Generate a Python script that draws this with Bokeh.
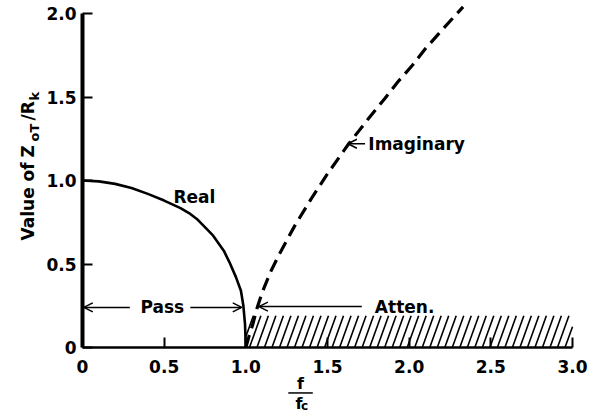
import numpy as np
from bokeh.plotting import figure
from bokeh.models import Range1d, FixedTicker, Label, Arrow, OpenHead
from bokeh.embed import file_html
from bokeh.resources import INLINE

# Normalised frequency f/fc and the characteristic impedance Z_oT/R_k
real_x = [0.0, 0.1, 0.2, 0.3, 0.4, 0.5, 0.6, 0.66, 0.7, 0.76, 0.8, 0.865, 0.9, 0.94,
          0.97, 0.985, 0.995, 1.0]
real_y = [1.0, 0.995, 0.98, 0.955, 0.92, 0.88, 0.835, 0.80, 0.77, 0.71, 0.67, 0.58, 0.51,
          0.42, 0.34, 0.25, 0.14, 0.0]

imag_x = [1.0, 1.02, 1.04, 1.07, 1.10, 1.15, 1.20, 1.30, 1.40, 1.50, 1.63, 1.75, 1.85,
          1.93, 2.02, 2.10, 2.20, 2.33]
imag_y = [0.0, 0.07, 0.13, 0.24, 0.33, 0.45, 0.55, 0.73, 0.89, 1.04, 1.22, 1.37, 1.49,
          1.59, 1.69, 1.79, 1.90, 2.04]

# attenuation band (shaded strip)
atten_start, atten_end, band_top = 1.0, 3.0, 0.19

x_ticks = [0.0, 0.5, 1.0, 1.5, 2.0, 2.5, 3.0]
x_tick_labels = ["0", "0.5", "1.0", "1.5", "2.0", "2.5", "3.0"]
y_ticks = [0.0, 0.5, 1.0, 1.5, 2.0]
y_tick_labels = ["0", "0.5", "1.0", "1.5", "2.0"]

FONT = "DejaVu Sans"

# frame fills the canvas; axes are pinned at the origin
p = figure(width=605, height=418,
           x_range=Range1d(-0.502, 3.202), y_range=Range1d(-0.425, 2.078),
           output_backend="svg", toolbar_location=None)
p.min_border_left = 0
p.min_border_right = 0
p.min_border_top = 0
p.min_border_bottom = 0
p.outline_line_color = None
p.grid.grid_line_color = None
p.background_fill_color = "white"
p.border_fill_color = "white"

for ax, ticks, labels in ((p.xaxis, x_ticks, x_tick_labels), (p.yaxis, y_ticks, y_tick_labels)):
    ax.fixed_location = 0
    ax.ticker = FixedTicker(ticks=ticks)
    ax.major_label_overrides = {t: l for t, l in zip(ticks, labels)}
    ax.minor_tick_line_color = None
    ax.major_tick_in = 10
    ax.major_tick_out = 0
    ax.major_tick_line_width = 2
    ax.major_tick_line_color = "black"
    ax.axis_line_color = "black"
    ax.major_label_text_font = FONT
    ax.major_label_text_font_style = "bold"
    ax.major_label_text_font_size = "17px"
    ax.major_label_text_color = "black"

p.xaxis.axis_line_width = 2.5
p.xaxis.major_label_standoff = 12
p.yaxis.axis_line_width = 4
p.yaxis.major_label_standoff = 6
p.yaxis.bounds = (0, 2.0)
p.xaxis.bounds = (0, 3.0)

# hatching of the attenuation band, clipped to the band's ends
dx, step = 0.07, 0.046
hx0, hy0, hx1, hy1 = [], [], [], []
for a in np.arange(atten_start - dx, atten_end, step):
    t0 = max(0.0, (atten_start - a) / dx)
    t1 = min(1.0, (atten_end - a) / dx)
    if t1 <= t0:
        continue
    hx0.append(a + dx * t0); hy0.append(band_top * t0)
    hx1.append(a + dx * t1); hy1.append(band_top * t1)
p.segment(hx0, hy0, hx1, hy1, line_color="black", line_width=1.6)

# real and imaginary parts
p.line(real_x, real_y, line_color="black", line_width=2.6)
p.line(imag_x, imag_y, line_color="black", line_width=3.2, line_dash="13 7")


def arrow(x0, x1, y):
    p.add_layout(Arrow(end=OpenHead(size=9, line_width=1.5, line_color="black"),
                       x_start=x0, y_start=y, x_end=x1, y_end=y,
                       line_width=1.5, line_color="black"))


def label(x, y, text, size="17px", align="left", baseline="middle", angle=0.0, bold=True):
    p.add_layout(Label(x=x, y=y, text=text, text_font=FONT, text_font_size=size,
                       text_font_style="bold" if bold else "normal",
                       text_align=align, text_baseline=baseline, angle=angle,
                       text_color="black"))


# pass / attenuation band markers
arrow(0.29, 0.008, 0.24)
arrow(0.66, 0.975, 0.24)
label(0.355, 0.24, "Pass")
arrow(1.71, 1.08, 0.245)
label(1.79, 0.245, "Atten.")

# curve labels
label(0.557, 0.90, "Real")
arrow(1.73, 1.625, 1.22)
label(1.75, 1.22, "Imaginary")

# y axis title: Value of Z_oT / R_k
up = np.pi / 2
label(-0.334, 0.641, "Value of", size="17px", angle=up)
label(-0.334, 1.138, "Z", size="17px", angle=up)
label(-0.293, 1.234, "oT", size="13px", angle=up)
label(-0.334, 1.359, "/R", size="17px", angle=up)
label(-0.293, 1.479, "k", size="13px", angle=up)

# x axis title: f / fc
label(1.335, -0.215, "f", size="16px", align="center")
p.add_layout(Arrow(end=None, x_start=1.26, x_end=1.41, y_start=-0.272, y_end=-0.272,
                   line_width=1.5, line_color="black"))
label(1.325, -0.335, "f", size="16px", align="center")
label(1.36, -0.35, "c", size="12px", align="center")

open("out.html", "w").write(file_html(p, INLINE))
